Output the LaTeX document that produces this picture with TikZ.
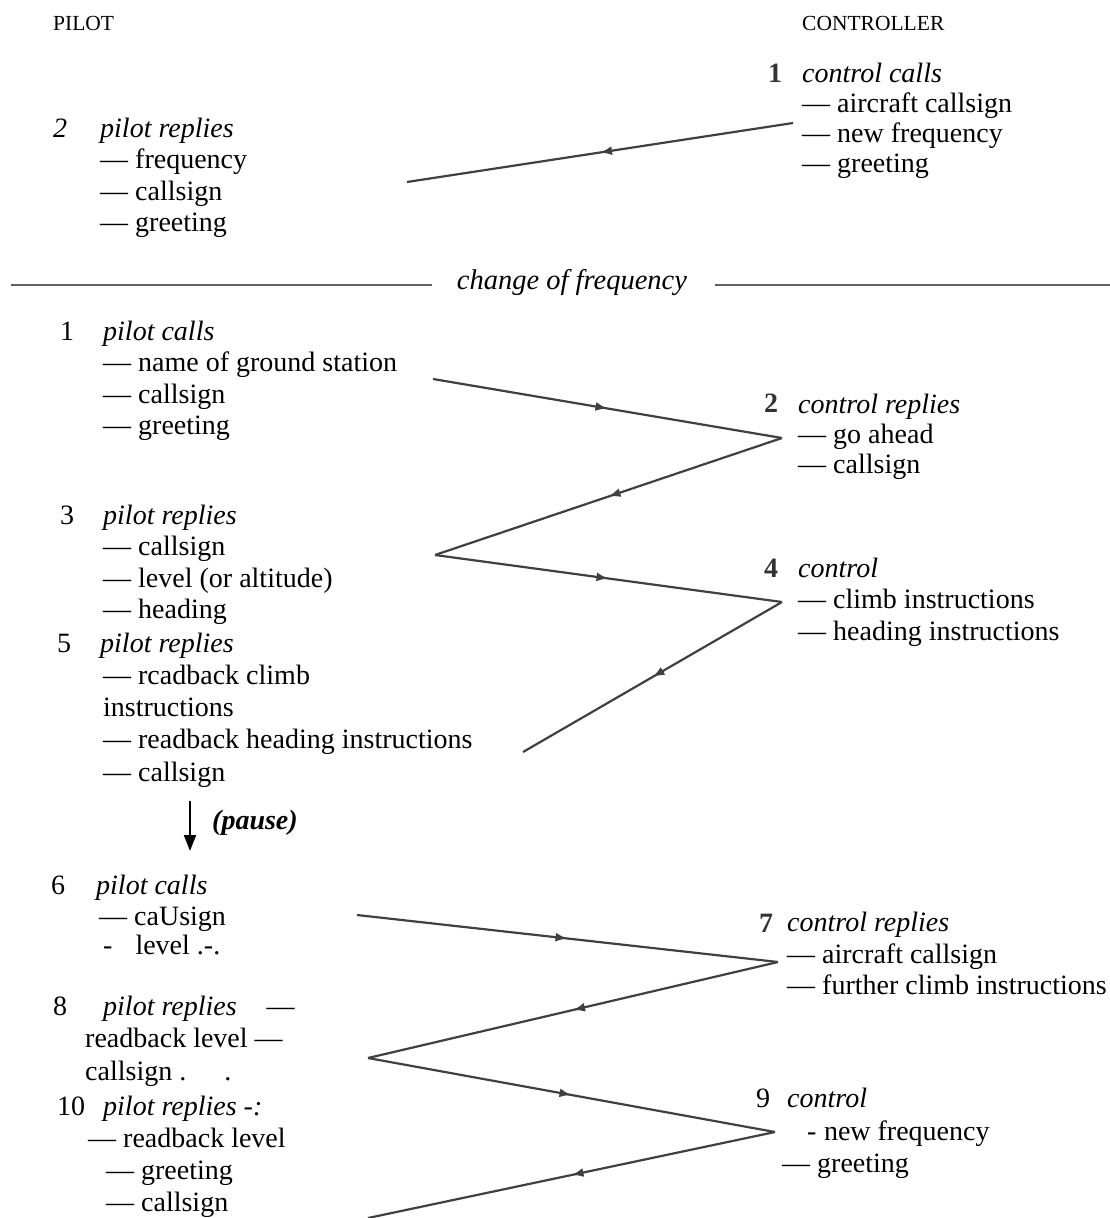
\documentclass[tikz,border=0pt]{standalone}
\usepackage{fontspec}
\setmainfont{Liberation Serif}
\usepackage{tikz}
\usetikzlibrary{arrows.meta,decorations.markings}
\newcommand{\msglines}[1]{\begin{tabular}[t]{@{}l@{}}#1\end{tabular}}

\tikzset{
  txt/.style={anchor=base west, inner sep=0pt, font=\fontsize{28}{31.5}\selectfont},
  tight/.style={font=\fontsize{28}{30}\selectfont},
  loose/.style={font=\fontsize{28}{32.3}\selectfont},
  side/.style={anchor=base west, inner sep=0pt, font=\fontsize{21.5}{24}\selectfont},
  scannum/.style={txt, font=\fontsize{28}{31.5}\selectfont\bfseries, text=black!80},
  msg/.style={line width=2.2pt, color=black!75, postaction={decorate},
    decoration={markings, mark=at position 0.5 with {\arrow{Latex[length=12pt,width=9pt]}}}},
  rule/.style={line width=2.2pt, color=black!62}
}

\begin{document}
\begin{tikzpicture}[x=1pt,y=-1pt]
  \useasboundingbox (0,0) rectangle (1110,1218);
  % colonnes
  \node[side] (pilot) at (53,30) {PILOT};
  \node[side] (ctrl) at (802,30) {CONTROLLER};
  % appel avant le changement de fréquence
  \node[scannum] (n1a) at (768,82) {1};
  \node[txt, tight] (c1) at (802,82) {\msglines{\textit{control calls}\\— aircraft callsign\\— new frequency\\— greeting}};
  \node[txt] (n2a) at (53,137) {\textit{2}};
  \node[txt] (p2) at (100,137) {\msglines{\textit{pilot replies}\\— frequency\\— callsign\\— greeting}};
  \coordinate (c1v) at (793,123);
  \coordinate (p2v) at (407,182);
  \draw[msg] (c1v) -- (p2v);
  % changement de fréquence
  \node[txt, anchor=mid, font=\fontsize{28.5}{31.5}\selectfont\itshape] (chg) at (572,287) {change of frequency};
  \coordinate (ruleL) at (11,285);
  \coordinate (ruleR) at (1110,285);
  \draw[rule] (ruleL) -- ([xshift=-25pt]chg.mid west |- ruleL);
  \draw[rule] ([xshift=28pt]chg.mid east |- ruleR) -- (ruleR);
  % premier échange
  \node[txt] (n1b) at (60,340) {1};
  \node[txt] (p1) at (103,340) {\msglines{\textit{pilot calls}\\— name of ground station\\— callsign\\— greeting}};
  \node[scannum] (n2b) at (764,412) {2};
  \node[txt, tight] (c2) at (798,413) {\msglines{\textit{control replies}\\— go ahead\\— callsign}};
  \node[txt] (n3) at (60,524) {3};
  \node[txt] (p3) at (103,524) {\msglines{\textit{pilot replies}\\— callsign\\— level (or altitude)\\— heading}};
  \node[scannum] (n4) at (764,577) {4};
  \node[txt] (c4) at (798,577) {\msglines{\textit{control}\\— climb instructions\\— heading instructions}};
  \node[txt] (n5) at (57,652) {5};
  \node[txt, loose] (p5) at (100,652) {\msglines{\textit{pilot replies}\\\hspace*{3pt}— rcadback climb\\\hspace*{3pt}instructions\\\hspace*{3pt}— readback heading instructions\\\hspace*{3pt}— callsign}};
  \coordinate (p1v) at (433,379);
  \coordinate (c2v) at (782,438);
  \coordinate (p3v) at (435,555);
  \coordinate (c4v) at (782,602);
  \coordinate (p5v) at (523,752);
  \draw[msg] (p1v) -- (c2v);
  \draw[msg] (c2v) -- (p3v);
  \draw[msg] (p3v) -- (c4v);
  \draw[msg] (c4v) -- (p5v);
  % pause
  \coordinate (pauseTop) at (190,801);
  \coordinate (pauseBot) at (190,851);
  \draw[line width=2pt, -{Triangle[length=16pt,width=12pt]}] (pauseTop) -- (pauseBot);
  \node[txt, anchor=mid west, font=\fontsize{28}{31.5}\selectfont\bfseries\itshape] (pause) at (212,827) {(pause)};
  % second échange
  \node[txt] (n6) at (51,894) {6};
  \node[txt] (p6) at (96,894) {\msglines{\textit{pilot calls}\\[-0.5pt]\hspace*{3pt}— caUsign\\[-2.5pt]\hspace*{7pt}-\hspace*{23pt}level .-.}};
  \node[scannum] (n7) at (759,932) {7};
  \node[txt] (c7) at (787,931.5) {\msglines{\textit{control replies}\\— aircraft callsign\\— further climb instructions}};
  \node[txt] (n8) at (53,1015) {8};
  \node[txt] (p8) at (103,1015) {\textit{pilot replies}\hspace{30pt}—};
  \node[txt] (p8b) at (85,1047) {\msglines{readback level —\\[1.5pt]callsign .\hspace{38pt}.}};
  \node[txt] (n9) at (756,1107) {9};
  \node[txt] (c9) at (787,1107) {\textit{control}};
  \node[txt, loose] (c9b) at (782,1140) {\msglines{\hspace*{25pt}-\hspace*{7.5pt}new frequency\\— greeting}};
  \node[txt] (n10) at (57,1115) {10};
  \node[txt] (p10) at (103,1115) {\textit{pilot replies -:}};
  \node[txt, loose] (p10b) at (88,1147) {\msglines{— readback level\\\hspace*{18pt}— greeting\\\hspace*{18pt}— callsign}};
  \coordinate (p6v) at (357,915);
  \coordinate (c7v) at (778,962);
  \coordinate (p8v) at (368,1058);
  \coordinate (c9v) at (775,1132);
  \coordinate (p10v) at (368,1218);
  \draw[msg] (p6v) -- (c7v);
  \draw[msg] (c7v) -- (p8v);
  \draw[msg] (p8v) -- (c9v);
  \draw[msg] (c9v) -- (p10v);
\end{tikzpicture}
\end{document}
